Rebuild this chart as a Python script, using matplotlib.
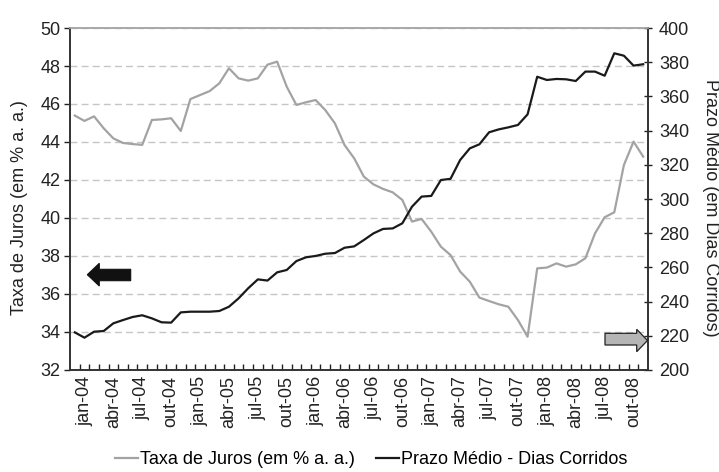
import matplotlib
matplotlib.use("Agg")
import matplotlib.pyplot as plt
from matplotlib.patches import Polygon

plt.rcParams['font.family'] = ['Liberation Sans', 'DejaVu Sans']

# Monthly data: dez-03 .. nov-08 (60 months)
months = ['dez-03',
          'jan-04', 'fev-04', 'mar-04', 'abr-04', 'mai-04', 'jun-04', 'jul-04', 'ago-04', 'set-04', 'out-04', 'nov-04', 'dez-04',
          'jan-05', 'fev-05', 'mar-05', 'abr-05', 'mai-05', 'jun-05', 'jul-05', 'ago-05', 'set-05', 'out-05', 'nov-05', 'dez-05',
          'jan-06', 'fev-06', 'mar-06', 'abr-06', 'mai-06', 'jun-06', 'jul-06', 'ago-06', 'set-06', 'out-06', 'nov-06', 'dez-06',
          'jan-07', 'fev-07', 'mar-07', 'abr-07', 'mai-07', 'jun-07', 'jul-07', 'ago-07', 'set-07', 'out-07', 'nov-07', 'dez-07',
          'jan-08', 'fev-08', 'mar-08', 'abr-08', 'mai-08', 'jun-08', 'jul-08', 'ago-08', 'set-08', 'out-08', 'nov-08']

taxa_juros = [45.39, 45.11, 45.35, 44.72, 44.19, 43.95, 43.89, 43.85, 45.16, 45.19,
              45.25, 44.58, 46.26, 46.47, 46.68, 47.09, 47.88, 47.35, 47.23, 47.35,
              48.07, 48.23, 46.91, 45.95, 46.09, 46.21, 45.68, 44.98, 43.84, 43.14,
              42.18, 41.77, 41.53, 41.35, 40.95, 39.81, 39.95, 39.28, 38.49, 38.05,
              37.18, 36.65, 35.81, 35.63, 35.46, 35.33, 34.63, 33.75, 37.35, 37.39,
              37.61, 37.44, 37.56, 37.88, 39.19, 40.04, 40.30, 42.79, 44.02, 43.23]

prazo_medio = [222.0, 218.9, 222.4, 222.8, 227.3, 229.2, 231.0, 232.0, 230.2, 227.9,
               227.7, 233.7, 234.1, 234.1, 234.1, 234.5, 237.0, 241.9, 247.8, 253.0,
               252.3, 257.1, 258.5, 263.7, 265.9, 266.7, 268.0, 268.4, 271.5, 272.3,
               276.0, 279.9, 282.5, 282.8, 285.8, 295.5, 301.4, 301.8, 311.1, 311.8,
               322.8, 329.6, 332.0, 339.0, 340.7, 341.9, 343.3, 349.5, 371.5, 369.6,
               370.2, 370.0, 369.0, 374.5, 374.5, 372.1, 385.2, 383.8, 378.0, 378.8]

left_ticks = [32, 34, 36, 38, 40, 42, 44, 46, 48, 50]
right_ticks = [200, 220, 240, 260, 280, 300, 320, 340, 360, 380, 400]
label_every = 3
label_start = 1

W, H = 719, 472
fig = plt.figure(figsize=(W / 100, H / 100), dpi=100)
ax = fig.add_axes([70 / W, 1 - 370 / H, 578 / W, 342 / H])
ax2 = ax.twinx()

x = list(range(len(months)))
ax.plot(x, taxa_juros, color='#a3a3a3', lw=1.6, solid_joinstyle='round', zorder=3,
        label='Taxa de Juros (em % a. a.)')
ax2.plot(x, prazo_medio, color='#1a1a1a', lw=1.6, solid_joinstyle='round', zorder=3,
         label='Prazo Médio - Dias Corridos')

ax.set_xlim(-0.5, len(months) - 0.5)
ax.set_ylim(left_ticks[0], left_ticks[-1])
ax2.set_ylim(right_ticks[0], right_ticks[-1])

ax.set_yticks(left_ticks)
ax2.set_yticks(right_ticks)
fs = 13
ax.tick_params(axis='y', direction='out', length=4, width=1, colors='#222222', labelsize=fs, pad=3)
ax2.tick_params(axis='y', direction='inout', length=6, width=1, colors='#222222', labelsize=fs, pad=5)

lbl_pos = x[label_start::label_every]
ax.set_xticks(lbl_pos)
ax.set_xticklabels([months[i] for i in lbl_pos], rotation=90, fontsize=fs)
ax.tick_params(axis='x', length=0, pad=4, colors='#222222')
ax.set_xticks([i + 0.5 for i in x[:-1]], minor=True)
ax.tick_params(axis='x', which='minor', direction='in', length=4, width=1, color='#222222')

ax.yaxis.grid(True, color='#c6c6c6', lw=1.0, linestyle=(0, (5, 3)))
ax.set_axisbelow(True)

for a in (ax, ax2):
    for s in ('left', 'right', 'bottom'):
        a.spines[s].set_color('#333333')
        a.spines[s].set_linewidth(1.2)
    a.spines['top'].set_color('#a8a8a8')
    a.spines['top'].set_linewidth(1.2)

fig.text(20 / W, 1 - 208 / H, 'Taxa de Juros (em % a. a.)', rotation=90,
         ha='center', va='center', fontsize=fs, color='#222222')
fig.text(710 / W, 1 - 208 / H, 'Prazo Médio (em Dias Corridos)', rotation=-90,
         ha='center', va='center', fontsize=fs, color='#222222')

def px_poly(pts, **kw):
    p = Polygon([(px / W, 1 - py / H) for px, py in pts], closed=True,
                transform=fig.transFigure, **kw)
    fig.add_artist(p)

# black arrow pointing left
px_poly([(87.3, 274.7), (99.3, 263.3), (99.3, 269.3), (130.7, 269.3),
         (130.7, 280.7), (99.3, 280.7), (99.3, 286.0)],
        facecolor='#111111', edgecolor='#111111', lw=0.8, zorder=5)
# grey arrow pointing right
px_poly([(605, 333.3), (636.7, 333.3), (636.7, 329.3), (647.5, 340.5),
         (636.7, 351.7), (636.7, 345.0), (605, 345.0)],
        facecolor='#b5b5b5', edgecolor='#222222', lw=0.9, zorder=5)

h1, l1 = ax.get_legend_handles_labels()
h2, l2 = ax2.get_legend_handles_labels()
fig.legend(h1 + h2, l1 + l2, loc='center', bbox_to_anchor=(371.5 / W, 1 - 460 / H),
           ncol=2, frameon=False, fontsize=fs, handlelength=1.27, handletextpad=0.12,
           columnspacing=1.16, borderpad=0, borderaxespad=0)

fig.savefig('out.png', dpi=100)
